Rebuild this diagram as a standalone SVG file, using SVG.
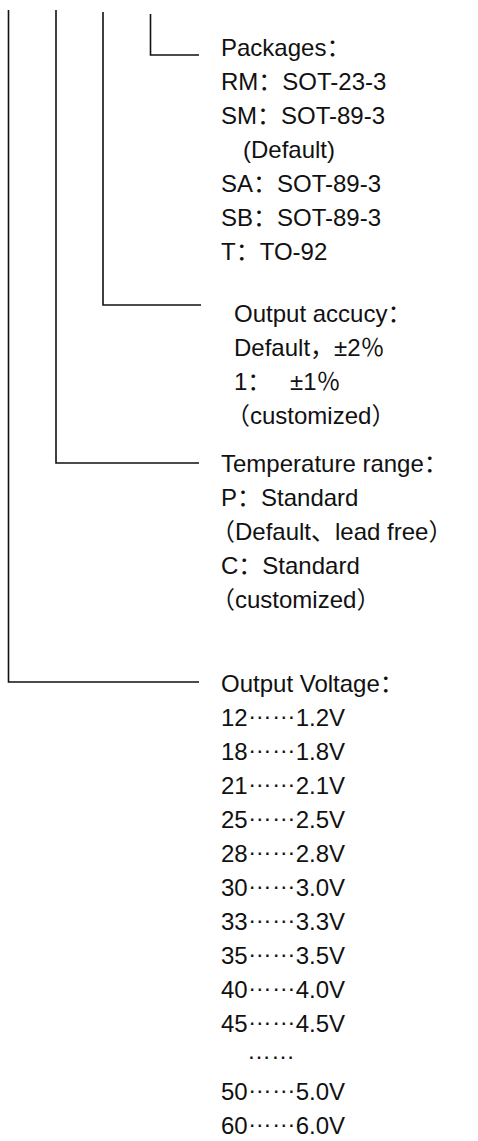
<svg xmlns="http://www.w3.org/2000/svg" width="478" height="1141" viewBox="0 0 478 1141">
<style>
.t{font-family:"Liberation Sans","Noto Sans CJK SC",sans-serif;font-size:24px;fill:#111}
.c{fill:none;stroke:#111;stroke-width:1.6}
</style>
<rect width="478" height="1141" fill="#fff"/>
<g id="connectors">
<path class="c" d="M8.5 10V682H199"/>
<path class="c" d="M56 10V463H199"/>
<path class="c" d="M103 12V305H201"/>
<path class="c" d="M150.5 14V55H199"/>
</g>
<g id="packages">
<text class="t" x="221" y="56">Packages：</text>
<text class="t" x="221" y="90">RM：SOT-23-3</text>
<text class="t" x="221" y="124">SM：SOT-89-3</text>
<text class="t" x="243" y="158">(Default)</text>
<text class="t" x="221" y="192">SA：SOT-89-3</text>
<text class="t" x="221" y="226">SB：SOT-89-3</text>
<text class="t" x="221" y="260">T：TO-92</text>
</g>
<g id="accuracy">
<text class="t" x="234" y="322">Output accucy：</text>
<text class="t" x="234" y="356">Default，±2％</text>
<text class="t" x="234" y="390">1：<tspan x="290">±1％</tspan></text>
<text class="t" x="226" y="424">（customized）</text>
</g>
<g id="temperature">
<text class="t" x="221" y="472">Temperature range：</text>
<text class="t" x="221" y="506">P：Standard</text>
<text class="t" x="211" y="540">（Default、lead free）</text>
<text class="t" x="221" y="574">C：Standard</text>
<text class="t" x="211" y="608">（customized）</text>
</g>
<g id="voltage">
<text class="t" x="221" y="692">Output Voltage：</text>
<text class="t" x="221" y="726">12<tspan dy="-7">……</tspan><tspan dy="7">1.2V</tspan></text>
<text class="t" x="221" y="760">18<tspan dy="-7">……</tspan><tspan dy="7">1.8V</tspan></text>
<text class="t" x="221" y="794">21<tspan dy="-7">……</tspan><tspan dy="7">2.1V</tspan></text>
<text class="t" x="221" y="828">25<tspan dy="-7">……</tspan><tspan dy="7">2.5V</tspan></text>
<text class="t" x="221" y="862">28<tspan dy="-7">……</tspan><tspan dy="7">2.8V</tspan></text>
<text class="t" x="221" y="896">30<tspan dy="-7">……</tspan><tspan dy="7">3.0V</tspan></text>
<text class="t" x="221" y="930">33<tspan dy="-7">……</tspan><tspan dy="7">3.3V</tspan></text>
<text class="t" x="221" y="964">35<tspan dy="-7">……</tspan><tspan dy="7">3.5V</tspan></text>
<text class="t" x="221" y="998">40<tspan dy="-7">……</tspan><tspan dy="7">4.0V</tspan></text>
<text class="t" x="221" y="1032">45<tspan dy="-7">……</tspan><tspan dy="7">4.5V</tspan></text>
<text class="t" x="247" y="1059">……</text>
<text class="t" x="221" y="1100">50<tspan dy="-7">……</tspan><tspan dy="7">5.0V</tspan></text>
<text class="t" x="221" y="1134">60<tspan dy="-7">……</tspan><tspan dy="7">6.0V</tspan></text>
</g>
</svg>
